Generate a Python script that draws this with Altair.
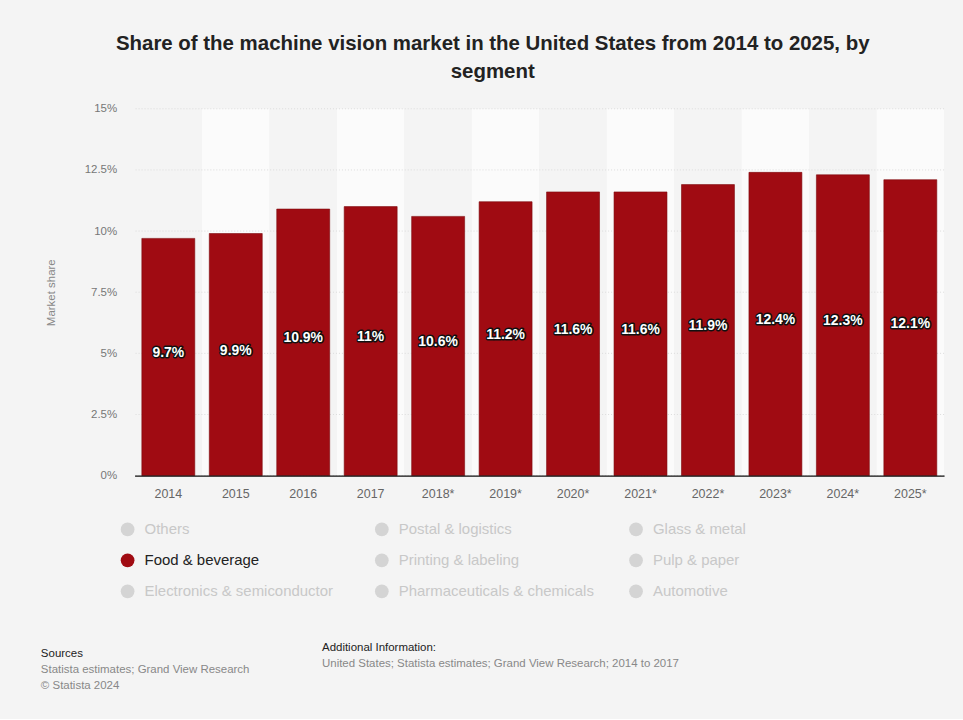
import altair as alt
import pandas as pd

years = ["2014", "2015", "2016", "2017", "2018*", "2019*", "2020*", "2021*", "2022*", "2023*", "2024*", "2025*"]
shares = [9.7, 9.9, 10.9, 11.0, 10.6, 11.2, 11.6, 11.6, 11.9, 12.4, 12.3, 12.1]
share_labels = ["9.7%", "9.9%", "10.9%", "11%", "10.6%", "11.2%", "11.6%", "11.6%", "11.9%", "12.4%", "12.3%", "12.1%"]
y_ticks = [0, 2.5, 5, 7.5, 10, 12.5, 15]

# legend entries, listed column by column
segments = ["Others", "Food & beverage", "Electronics & semiconductor",
            "Postal & logistics", "Printing & labeling", "Pharmaceuticals & chemicals",
            "Glass & metal", "Pulp & paper", "Automotive"]
active_segment = "Food & beverage"

title_lines = ["Share of the machine vision market in the United States from 2014 to 2025, by", "segment"]
sources_lines = ["Statista estimates; Grand View Research", "© Statista 2024"]
additional_info = "United States; Statista estimates; Grand View Research; 2014 to 2017"

RED = "#a00b12"
BG = "#f4f4f4"
FONT = "Liberation Sans"
W, H = 812, 368

df = pd.DataFrame({"year": years, "share": shares, "label": share_labels})
df["half"] = df["share"] / 2
df["band"] = [i % 2 for i in range(len(years))]

xenc = alt.X("year:N", sort=years, scale=alt.Scale(paddingInner=0, paddingOuter=0),
             axis=alt.Axis(title=None, labelAngle=0, labelColor="#666", labelFontSize=12.5,
                           labelFont=FONT, labelPadding=12, ticks=False, domain=True,
                           domainColor="#111", domainWidth=1.2))
yscale = alt.Scale(domain=[0, 15], nice=False)

bands = alt.Chart(df).mark_rect().encode(
    x=xenc,
    y=alt.datum(15, scale=yscale),
    y2=alt.datum(0),
    color=alt.Color("band:N", scale=alt.Scale(domain=[0, 1], range=[BG, "#fbfbfb"]), legend=None),
)

grid = alt.Chart(pd.DataFrame({"t": y_ticks})).mark_rule(color="#dcdcdc", strokeDash=[1, 2]).encode(
    y=alt.Y("t:Q", scale=yscale,
            axis=alt.Axis(values=y_ticks, labelExpr="datum.value + '%'", title="Market share",
                          titleColor="#888", titleFontSize=11.5, titleFontWeight="normal", titleFont=FONT,
                          labelColor="#777", labelFontSize=11.5, labelFont=FONT, labelPadding=18,
                          ticks=False, domain=False, grid=False, titlePadding=28)),
)

bars = alt.Chart(df).mark_bar(color=RED, width=alt.RelativeBandSize(0.785),
                              stroke="#7d0a0e", strokeWidth=0.6).encode(
    x=xenc, y=alt.Y("share:Q", scale=yscale),
)

shadow = alt.Chart(df).mark_text(font=FONT, fontSize=14, fontWeight="bold", color="#111",
                                 stroke="#111", strokeWidth=3, strokeJoin="round", dy=-4).encode(
    x=xenc, y=alt.Y("half:Q", scale=yscale), text="label:N")
labels = alt.Chart(df).mark_text(font=FONT, fontSize=14, fontWeight="bold", color="white", dy=-4).encode(
    x=xenc, y=alt.Y("half:Q", scale=yscale), text="label:N")

main = alt.layer(bands, grid, bars, shadow, labels).properties(width=W, height=H)

# legend panel
leg = pd.DataFrame({"name": segments})
leg["col"] = [i // 3 for i in range(len(segments))]
leg["row"] = [i % 3 for i in range(len(segments))]
leg["px"] = leg["col"] * 255 - 7
leg["py"] = leg["row"] * 31 + 29
leg["tx"] = leg["px"] + 17
leg["active"] = leg["name"] == active_segment

dots = alt.Chart(leg).mark_point(filled=True, size=190, opacity=1).encode(
    x=alt.X("px:Q", scale=None, axis=None), y=alt.Y("py:Q", scale=None, axis=None),
    color=alt.condition("datum.active", alt.value(RED), alt.value("#d4d4d4")),
)
names = alt.Chart(leg).mark_text(align="left", baseline="middle", font=FONT, fontSize=15).encode(
    x=alt.X("tx:Q", scale=None, axis=None), y=alt.Y("py:Q", scale=None, axis=None), text="name:N",
    color=alt.condition("datum.active", alt.value("#222"), alt.value("#c8c8c8")),
)

foot = pd.DataFrame({
    "text": ["Sources"] + sources_lines + ["Additional Information:", additional_info],
    "fx": [-94, -94, -94, 188, 188],
    "fy": [154, 170, 186, 148, 164],
    "kind": ["head", "body", "body", "head", "body"],
})
footer = alt.Chart(foot).mark_text(align="left", baseline="middle", font=FONT, fontSize=11.5).encode(
    x=alt.X("fx:Q", scale=None, axis=None), y=alt.Y("fy:Q", scale=None, axis=None), text="text:N",
    color=alt.condition("datum.kind == 'head'", alt.value("#222"), alt.value("#888")),
)

bottom = alt.layer(dots, names, footer).properties(width=W, height=190)

chart = alt.vconcat(main, bottom, spacing=0).properties(
    title=alt.TitleParams(text=title_lines, font=FONT, fontSize=20.5, fontWeight="bold", color="#222",
                          lineHeight=28, anchor="middle", offset=20),
    background=BG,
    padding={"left": 41, "top": 33, "right": 18, "bottom": 26},
).configure_view(stroke=None).configure_concat(spacing=0)

chart.save("out.html", embed_options={"renderer": "svg", "actions": False})
